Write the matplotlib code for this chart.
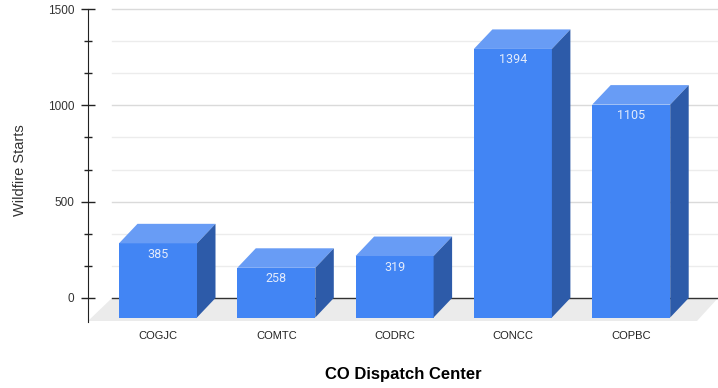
import matplotlib.pyplot as plt
from matplotlib.patches import Polygon
import numpy as np

centers = ['COGJC', 'COMTC', 'CODRC', 'CONCC', 'COPBC']
starts = [385, 258, 319, 1394, 1105]
major_ticks = [0, 500, 1000, 1500]
minor_ticks = [500 / 3 * k for k in range(10) if k % 3]

plt.rcParams['font.family'] = ['Liberation Sans', 'DejaVu Sans']

W, H = 718, 388
fig = plt.figure(figsize=(W / 100, H / 100), dpi=100)

# plot box in pixels (back plane: 0 at y=298, 1500 at y=9)
left_px, right_px, top_px, bot_px = 88, 718, 9, 325
ax = fig.add_axes([left_px / W, 1 - bot_px / H, (right_px - left_px) / W, (bot_px - top_px) / H])

step_px = 118.3   # px between categories
first_px = 158    # front centre of first bar
ppu = 289 / 1500  # px per unit
xmin = (left_px - first_px) / step_px
xmax = (right_px - first_px) / step_px
ax.set_xlim(xmin, xmax)
ax.set_ylim(-(bot_px - 298) / ppu, 1500)

# fake 3d depth
dx = 18.5 / step_px
dy = 19.5 / ppu
fdx_l = (112 - first_px) / step_px
fdx_r = (697 - first_px) / step_px
fdy = (321 - 298) / ppu

# floor
floor = Polygon([(xmin, -fdy), (fdx_r, -fdy), (xmax, 0), (fdx_l, 0)],
                closed=True, facecolor='#ebebeb', edgecolor='none', zorder=0, clip_on=False)
ax.add_patch(floor)

# gridlines on the back wall
for t in minor_ticks:
    ax.plot([fdx_l, xmax], [t, t], color='#ececec', lw=1, zorder=1, clip_on=False)
for t in major_ticks[1:]:
    ax.plot([fdx_l, xmax], [t, t], color='#dadada', lw=1, zorder=1, clip_on=False)
ax.plot([fdx_l, xmax], [0, 0], color='#333333', lw=1, zorder=1, clip_on=False)

bw = 78 / step_px
front_c = '#4285F4'
top_c = '#689CF5'
side_c = '#2D5BA9'
for i, v in enumerate(starts):
    x0, x1 = i - bw / 2, i + bw / 2
    ax.add_patch(Polygon([(x0, -dy), (x1, -dy), (x1, v - dy), (x0, v - dy)],
                         facecolor=front_c, edgecolor='none', zorder=3))
    ax.add_patch(Polygon([(x0, v - dy), (x1, v - dy), (x1 + dx, v), (x0 + dx, v)],
                         facecolor=top_c, edgecolor='none', zorder=3))
    ax.add_patch(Polygon([(x1, -dy), (x1 + dx, 0), (x1 + dx, v), (x1, v - dy)],
                         facecolor=side_c, edgecolor='none', zorder=3))
    ax.text(i, v - dy - 11 / ppu, str(v), ha='center', va='center',
            fontsize=9, color='#e3ebfb', zorder=4, family=['Roboto', 'DejaVu Sans'])

for s in ['top', 'right', 'bottom']:
    ax.spines[s].set_visible(False)
ax.spines['left'].set_color('#222222')
ax.spines['left'].set_bounds(-(322 - 298) / ppu, 1500)

ax.set_yticks(major_ticks)
ax.set_yticks(minor_ticks, minor=True)
ax.tick_params(axis='y', which='major', direction='inout', length=10, width=1,
               color='#222222', labelsize=8.5, labelcolor='#333333', pad=5)
ax.tick_params(axis='y', which='minor', direction='inout', length=6, width=1, color='#222222')
ax.set_xticks(range(len(centers)), centers)
ax.tick_params(axis='x', length=0, pad=4, labelsize=8, labelcolor='#222222')

fig.text(20 / W, 1 - 170 / H, 'Wildfire Starts', rotation=90, ha='center', va='center',
         fontsize=10.5, color='#333333')
fig.text(403 / W, 1 - 375 / H, 'CO Dispatch Center', ha='center', va='center',
         fontsize=12, fontweight='bold', color='#000000')

fig.savefig('out.png', dpi=100)
